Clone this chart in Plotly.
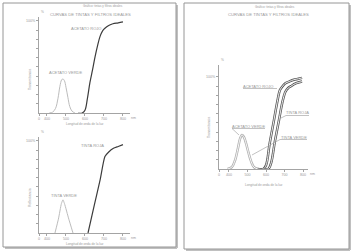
import plotly.graph_objects as go

# ---------------- data ----------------
# top-left: "ACETATO VERDE" / "ACETATO ROJO" (transmitancia, %)
av_wl = [412, 430, 445, 458, 468, 477, 484, 492, 500, 510, 520, 532, 547]
av_val = [0, 1, 5, 16, 29, 36, 37, 35, 28, 17, 7, 2, 0]
ar_wl = [565, 585, 600, 613, 626, 640, 653, 666, 679, 692, 705, 725, 747, 775, 800]
ar_val = [0, 0, 3, 16, 33, 47, 61, 73, 83, 89, 92, 95, 97, 98, 99]

# bottom-left: "TINTA VERDE" / "TINTA ROJA" (reflectancia, %)
tv_wl = [442, 460, 476, 484, 492, 515, 537]
tv_val = [0, 15, 32, 36, 32, 15, 0]
tr_wl = [616, 650, 680, 705, 725, 750, 775, 800]
tr_val = [0, 31, 58, 83, 88, 92, 94, 96]

# right: all four curves together
rv_wl = [392, 415, 432, 448, 460, 470, 480, 492, 505, 520, 535, 557]
rv_val = [0, 2, 9, 22, 33, 37, 35, 28, 18, 8, 2, 0]
rar_wl = [555, 585, 600, 620, 643, 660, 676, 690, 703, 725, 750, 775, 795]
rar_val = [0, 0, 4, 28, 53, 72, 86, 90, 93, 95, 97, 98, 99]
rtr_wl = [585, 612, 627, 648, 670, 688, 705, 720, 735, 760, 795]
rtr_val = [0, 0, 6, 30, 53, 72, 84, 88, 90, 93, 95]

x_tickvals = [400, 500, 600, 700, 800]
x_ticktext = ["400", "500", "600", "700", "800"]
y_tickvals = [10, 20, 30, 40, 50, 60, 70, 80, 90, 100]
y_ticktext = ["", "", "", "", "", "", "", "", "", "100%"]

TITLE = "CURVAS DE TINTAS Y FILTROS IDEALES"
SUB = "Gráfico: tintas y filtros ideales"
XLAB = "Longitud de onda de la luz"

# ---------------- layout helpers ----------------
W, H = 353, 252
def fx(p):
    return p / W
def fy(p):
    return 1 - p / H

TXT = "#999999"
AX = "#a4a4a4"
FONT = "Liberation Sans"

fig = go.Figure()

# left top
fig.add_trace(go.Scatter(x=av_wl, y=av_val, mode="lines", line=dict(color="#bcbcbc", width=1, shape="spline"),
                         xaxis="x", yaxis="y", hoverinfo="skip"))
fig.add_trace(go.Scatter(x=ar_wl, y=ar_val, mode="lines", line=dict(color="#3c3c3c", width=1.2, shape="spline"),
                         xaxis="x", yaxis="y", hoverinfo="skip"))
# left bottom
fig.add_trace(go.Scatter(x=tv_wl, y=tv_val, mode="lines", line=dict(color="#bcbcbc", width=1, shape="spline", smoothing=0.5),
                         xaxis="x2", yaxis="y2", hoverinfo="skip"))
fig.add_trace(go.Scatter(x=tr_wl, y=tr_val, mode="lines", line=dict(color="#3c3c3c", width=1.2, shape="spline", smoothing=0.6),
                         xaxis="x2", yaxis="y2", hoverinfo="skip"))
# right: hollow (double) strokes
for xs, ys, col in [(rv_wl, rv_val, "#b0b0b0"), (rar_wl, rar_val, "#555555"), (rtr_wl, rtr_val, "#555555")]:
    fig.add_trace(go.Scatter(x=xs, y=ys, mode="lines", line=dict(color=col, width=2.5, shape="spline"),
                             xaxis="x3", yaxis="y3", hoverinfo="skip"))
    fig.add_trace(go.Scatter(x=xs, y=ys, mode="lines", line=dict(color="white", width=0.9, shape="spline"),
                             xaxis="x3", yaxis="y3", hoverinfo="skip"))

def xax(dom, rng, anchor):
    return dict(domain=dom, range=rng, anchor=anchor, showline=True, linecolor=AX, linewidth=1,
                showgrid=False, zeroline=False, ticks="outside", ticklen=2, tickwidth=0.8, tickcolor=AX,
                tickvals=[rng[0] + 0.01] + x_tickvals, ticktext=["0"] + x_ticktext,
                tickfont=dict(size=3.6, color=TXT, family=FONT), fixedrange=True)

def yax(dom, rng, anchor):
    return dict(domain=dom, range=rng, anchor=anchor, showline=True, linecolor=AX, linewidth=1,
                showgrid=False, zeroline=False, ticks="outside", ticklen=2, tickwidth=0.8, tickcolor=AX,
                tickvals=y_tickvals, ticktext=y_ticktext,
                tickfont=dict(size=3.6, color=TXT, family=FONT), fixedrange=True)

fig.update_layout(
    width=W, height=H, margin=dict(l=0, r=0, t=0, b=0),
    paper_bgcolor="white", plot_bgcolor="white", showlegend=False,
    xaxis=xax([fx(39), fx(130)], [358, 837], "y"),
    yaxis=yax([fy(113), fy(17)], [0, 104.3], "x"),
    xaxis2=xax([fx(39), fx(130)], [358, 837], "y2"),
    yaxis2=yax([fy(233), fy(137)], [0, 104.3], "x2"),
    xaxis3=xax([fx(219), fx(308)], [346, 827], "y3"),
    yaxis3=yax([fy(169), fy(65)], [0, 113], "x3"),
)

shapes = []
# page borders with shadow
for (x0, y0, x1, y1) in [(3, 3, 176, 247), (184, 3, 349, 249)]:
    shapes.append(dict(type="line", xref="paper", yref="paper", x0=fx(x1 + 1), x1=fx(x1 + 1), y0=fy(y0 + 2), y1=fy(y1 + 1),
                       line=dict(color="#c0c0c0", width=2)))
    shapes.append(dict(type="line", xref="paper", yref="paper", x0=fx(x0 + 2), x1=fx(x1 + 1), y0=fy(y1 + 1), y1=fy(y1 + 1),
                       line=dict(color="#c0c0c0", width=2)))
    shapes.append(dict(type="rect", xref="paper", yref="paper", x0=fx(x0), x1=fx(x1), y0=fy(y1), y1=fy(y0),
                       line=dict(color="#969696", width=1)))

# leader lines / underlines on the right chart (paper coordinates)
def seg(x0, y0, x1, y1):
    shapes.append(dict(type="line", xref="paper", yref="paper", x0=fx(x0), y0=fy(y0), x1=fx(x1), y1=fy(y1),
                       line=dict(color="#a8a8a8", width=0.7)))
seg(243, 88.5, 277, 88.5)
seg(286, 115.5, 309, 115.5)
seg(286, 115.5, 281, 118)
seg(232, 128.5, 265, 128.5)
seg(232, 128.5, 239, 135)
seg(280, 139.5, 307, 139.5)
seg(280, 139.5, 252, 155)
fig.update_layout(shapes=shapes)

ann = []
def t(x, y, s, size=4.2, color=TXT, angle=0, xanchor="center"):
    ann.append(dict(xref="paper", yref="paper", x=fx(x), y=fy(y), text=s, showarrow=False,
                    font=dict(size=size, color=color, family=FONT), textangle=angle,
                    xanchor=xanchor, yanchor="middle"))

# titles
t(103, 6, SUB, size=3)
t(90, 14.5, TITLE, size=4.2)
t(275, 6.5, SUB, size=3)
t(268, 14.5, TITLE, size=4.2)

# axis titles
t(85, 124, XLAB, size=3.2)
t(85, 244, XLAB, size=3.2)
t(264, 185, XLAB, size=3.2)
t(30, 80, "Transmitancia", size=3.4, angle=-90)
t(30, 198, "Reflectancia", size=3.4, angle=-90)
t(209, 128, "Transmitancia", size=3.4, angle=-90)
t(133, 117.5, "nm", size=3.5)
t(133, 237.5, "nm", size=3.5)
t(312, 173.5, "nm", size=3.5)
t(42, 12, "%", size=3.2)
t(42, 132, "%", size=3.2)
t(222, 60, "%", size=3.2)

# curve labels
t(86, 28, "ACETATO ROJO", size=4)
t(65, 72, "ACETATO VERDE", size=4)
t(92, 145, "TINTA ROJA", size=4)
t(64, 195, "TINTA VERDE", size=4)
t(258, 86, "ACETATO ROJO", size=4)
t(297.5, 113, "TINTA ROJA", size=4)
t(248.5, 126, "ACETATO VERDE", size=4)
t(293.5, 137, "TINTA VERDE", size=4)

fig.update_layout(annotations=ann)
fig.write_html("out.html")
